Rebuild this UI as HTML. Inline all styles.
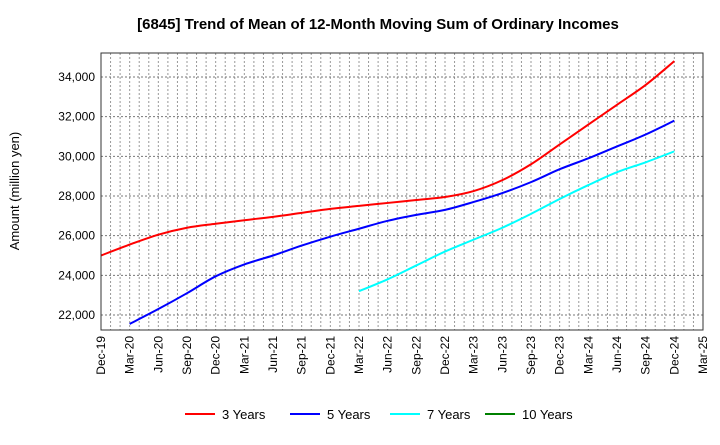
<!DOCTYPE html>
<html><head><meta charset="utf-8"><style>body{margin:0;background:#fff}svg{font-family:"Liberation Sans",sans-serif}</style></head>
<body>
<svg id="c" width="720" height="440" xmlns="http://www.w3.org/2000/svg">
<text x="378" y="29" text-anchor="middle" font-size="15" font-weight="bold">[6845]  Trend of Mean of 12-Month Moving Sum of Ordinary Incomes</text>
<text transform="translate(19,191) rotate(-90)" text-anchor="middle" font-size="13">Amount (million yen)</text>
<g id="grid"></g><g id="series"></g><g id="axes"></g>
<g id="legend"></g>
</svg>
<script>
const xLabels=["Dec-19","Mar-20","Jun-20","Sep-20","Dec-20","Mar-21","Jun-21","Sep-21","Dec-21","Mar-22","Jun-22","Sep-22","Dec-22","Mar-23","Jun-23","Sep-23","Dec-23","Mar-24","Jun-24","Sep-24","Dec-24","Mar-25"];
const yTicks=[22000,24000,26000,28000,30000,32000,34000];
const s3=[25000,25550,26050,26400,26600,26780,26950,27150,27350,27500,27650,27800,27950,28250,28800,29600,30600,31600,32600,33600,34800];
const s5=[null,21550,22300,23100,23950,24550,25000,25500,25950,26350,26750,27050,27300,27700,28150,28700,29350,29900,30500,31100,31800];
const s7=[null,null,null,null,null,null,null,null,null,23200,23800,24500,25200,25800,26400,27100,27850,28550,29200,29700,30250];
const s10=[];
const L=101,R=703,T=53,B=330,NS="http://www.w3.org/2000/svg";
const xq=i=>L+i*(R-L)/21;
const y=v=>315-(v-22000)*(238/12000);
function mk(t,a,p){const e=document.createElementNS(NS,t);for(const k in a)e.setAttribute(k,a[k]);p.appendChild(e);return e;}
const g=document.getElementById('grid'),ax=document.getElementById('axes'),se=document.getElementById('series'),lg=document.getElementById('legend');
for(let m=1;m<63;m++){const x=L+m*(R-L)/63;const l=mk('line',{x1:x,x2:x,y1:T,y2:B,stroke:'#999','stroke-dasharray':'2,2','stroke-width':1},g);

}
yTicks.forEach(v=>{const l=mk('line',{x1:L,x2:R,y1:y(v),y2:y(v),stroke:'#777','stroke-dasharray':'2,2'},g);


const t=mk('text',{x:L-6,y:y(v)+4,'text-anchor':'end','font-size':12},ax);t.textContent=v.toLocaleString('en-US');

});
const fr=mk('rect',{x:L,y:T,width:R-L,height:B-T,fill:'none',stroke:'#333'},ax);


xLabels.forEach((s,i)=>{const x=xq(i);const t=mk('text',{transform:`translate(${x+4},${B+6}) rotate(-90)`,'text-anchor':'end','font-size':12},ax);t.textContent=s;

});
function path(d){const p=[];d.forEach((v,i)=>{if(v!=null)p.push([xq(i),y(v)]);});if(p.length<2)return'';
let s=`M${p[0][0]},${p[0][1]}`;for(let i=0;i<p.length-1;i++){const p0=p[i-1]||p[i],p1=p[i],p2=p[i+1],p3=p[i+2]||p2;
s+=`C${p1[0]+(p2[0]-p0[0])/6},${p1[1]+(p2[1]-p0[1])/6} ${p2[0]-(p3[0]-p1[0])/6},${p2[1]-(p3[1]-p1[1])/6} ${p2[0]},${p2[1]}`;}return s;}
[[s3,'#ff0000','line-3-years'],[s5,'#0000ff','line-5-years'],[s7,'#00ffff','line-7-years'],[s10,'#008000','line-10-years']].forEach(([d,c,n])=>{const pd=path(d);if(!pd)return;
const e=mk('path',{d:pd,fill:'none',stroke:c,'stroke-width':2},se);

});
[['3 Years','#ff0000',185],['5 Years','#0000ff',290],['7 Years','#00ffff',390],['10 Years','#008000',485]].forEach(([t,c,x])=>{
const gg=mk('g',{},lg);


mk('line',{x1:x,x2:x+30,y1:414,y2:414,stroke:c,'stroke-width':2},gg);
const tx=mk('text',{x:x+37,y:419,'font-size':13},gg);tx.textContent=t;});
</script>
</body></html>
